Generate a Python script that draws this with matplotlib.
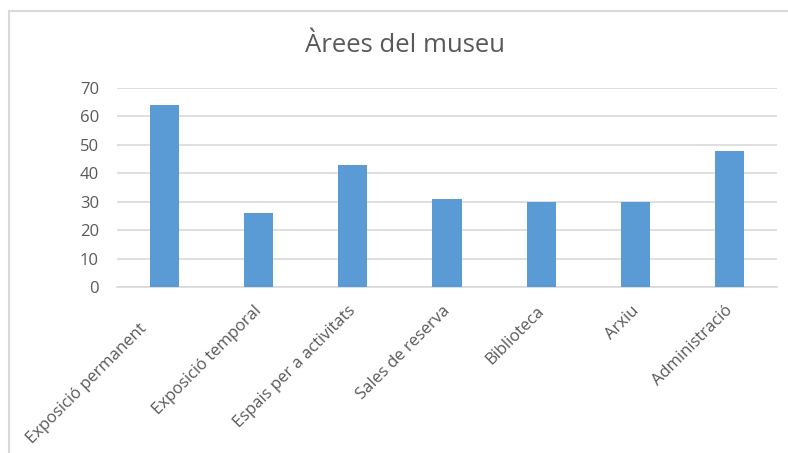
import matplotlib
matplotlib.use("Agg")
import matplotlib.pyplot as plt
from matplotlib.lines import Line2D
from matplotlib.transforms import ScaledTranslation

categories = ["Exposició permanent", "Exposició temporal", "Espais per a activitats",
              "Sales de reserva", "Biblioteca", "Arxiu", "Administració"]
values = [64, 26, 43, 31, 30, 30, 48]
yticks = [0, 10, 20, 30, 40, 50, 60, 70]
title = "Àrees del museu"

plt.rcParams['font.family'] = ['Open Sans', 'DejaVu Sans']
W, H = 788, 453
fig = plt.figure(figsize=(W / 100, H / 100), dpi=100)
fig.patch.set_facecolor("white")

# chart frame (partially cropped)
frame_c = "#d9d9d9"
fig.add_artist(Line2D([9 / W, 1.0], [1 - 11 / H, 1 - 11 / H], color=frame_c, lw=1.5, transform=fig.transFigure))
fig.add_artist(Line2D([9 / W, 9 / W], [0, 1 - 11 / H], color=frame_c, lw=1.5, transform=fig.transFigure))

ax = fig.add_axes([117 / W, 1 - 287 / H, (777 - 117) / W, (287 - 88) / H])
x = list(range(len(categories)))
ax.bar(x, values, width=0.31, color="#5b9bd5", zorder=3)
ax.set_xlim(-0.5, len(categories) - 0.5)
ax.set_ylim(0, 70)
ax.set_yticks(yticks)
ax.yaxis.grid(True, color="#d9d9d9", lw=1.2, zorder=0)
ax.set_axisbelow(True)
for s in ["top", "right", "left"]:
    ax.spines[s].set_visible(False)
ax.spines["bottom"].set_color("#d9d9d9")
ax.spines["bottom"].set_linewidth(1.2)
ax.tick_params(axis="both", length=0, colors="#595959")
ax.tick_params(axis="y", pad=13, labelsize=12)
ax.set_xticks(x)
ax.set_xticklabels(categories, rotation=45, ha="right", rotation_mode="anchor", fontsize=12)
ax.tick_params(axis="x", pad=10)

labels = ax.get_xticklabels()
for i, lbl in enumerate(labels):
    dx, dy = -5, -2
    if i == 0:
        # first label is pushed along its direction to stay inside the chart frame
        dx, dy = dx - 20, dy - 18
    lbl.set_transform(lbl.get_transform() + ScaledTranslation(dx / 100, dy / 100, fig.dpi_scale_trans))

fig.text(405 / W, 1 - 45 / H, title, ha="center", va="center", fontsize=18.5, color="#595959")

fig.savefig("out.png", dpi=100, facecolor="white")
